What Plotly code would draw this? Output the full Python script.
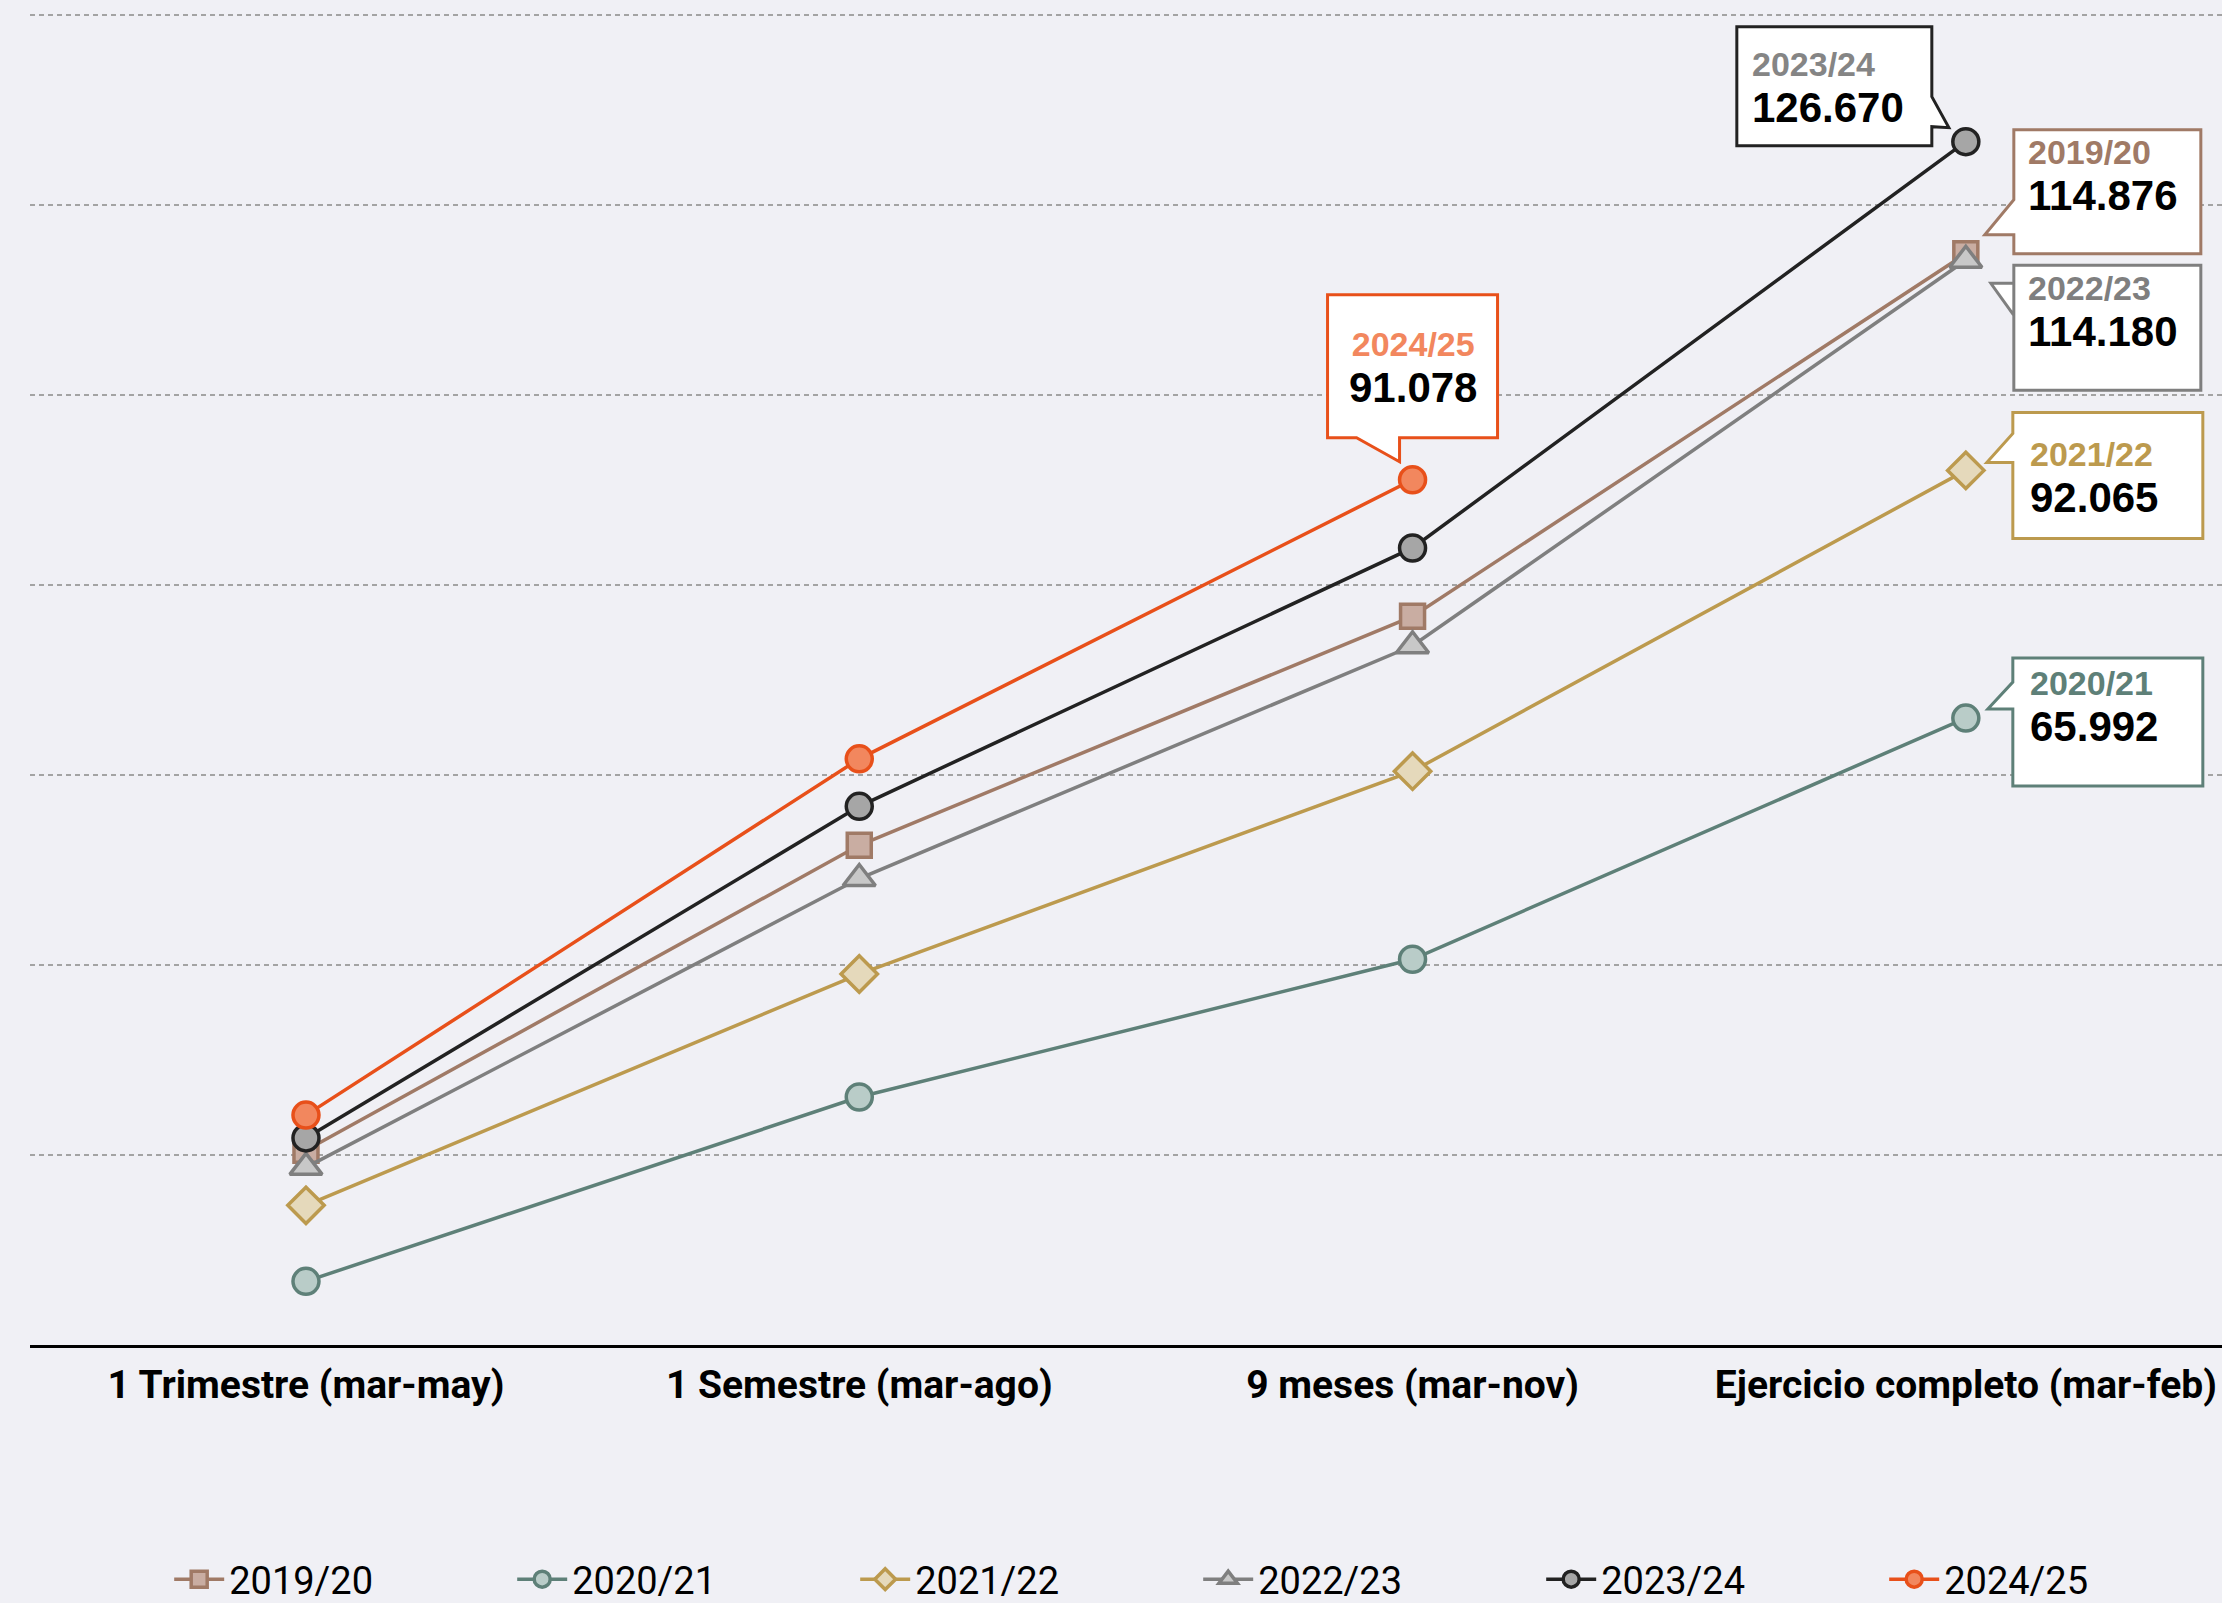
import plotly.graph_objects as go

# ---------------- data ----------------
categories = ["1 Trimestre (mar-may)", "1 Semestre (mar-ago)",
              "9 meses (mar-nov)", "Ejercicio completo (mar-feb)"]
series_names = ["2019/20", "2020/21", "2021/22", "2022/23", "2023/24", "2024/25"]
v_2019_20 = [20500, 52600, 76700, 114876]
v_2020_21 = [6700, 26100, 40600, 65992]
v_2021_22 = [14700, 39050, 60400, 92065]
v_2022_23 = [18700, 49100, 73600, 114180]
v_2023_24 = [21800, 56700, 83900, 126670]
v_2024_25 = [24200, 61700, 91078, None]
series_values = [v_2019_20, v_2020_21, v_2021_22, v_2022_23, v_2023_24, v_2024_25]

# ---------------- styles ----------------
line_colors = ["#A07A66", "#5E8078", "#BC9A4E", "#7F7F7F", "#222222", "#E8501A"]
fill_colors = ["#C9ADA2", "#B9CCC8", "#E5D9BB", "#C8C8C8", "#A6A6A6", "#F2875E"]
label_colors = ["#A07A66", "#5E8078", "#BC9A4E", "#7F7F7F", "#858585", "#F2875E"]
symbols = ["square", "circle", "diamond", "triangle-up", "circle", "circle"]
msizes = [24, 26, 28, 28, 26, 26]

# callout geometry, screen pixels relative to the labelled point (x right, y down)
# box: (left, top, right, bottom); tail: three points (base1, tip, base2) on box edge
callout_box = [(48, -124, 235, 0), (47, -60, 237, 68), (47, -58, 237, 68),
               (48, 5, 235, 130), (-229, -115, -34, 4), (-85, -185, 85, -42)]
callout_tail_side = ["left", "left", "left", "left", "right", "bottom"]
callout_tail = [[(48, -54), (19, -19), (48, -19)],
                [(47, -36), (22, -9), (47, -9)],
                [(47, -37), (21, -8), (47, -8)],
                [(48, 55), (25, 23), (48, 23)],
                [(-34, -45), (-17, -14), (-34, -15)],
                [(-13, -42), (-13, -18), (-56, -42)]]
callout_text_dx = [62, 64, 64, 62, -214, 0]
callout_text_dy = [-121, -54, -35, 9, -97, -155]
callout_anchor = ["left", "left", "left", "left", "left", "center"]

BG = "#F0F0F5"
W, H = 2222, 1603
ML, MR, MT, MB = 30, 0, 5, 258
px_per_unit = 190 / 20000.0
plot_h = H - MT - MB
y_top = plot_h / px_per_unit

fig = go.Figure()
for i, name in enumerate(series_names):
    fig.add_trace(go.Scatter(
        x=categories, y=series_values[i], name=name, mode="lines+markers",
        line=dict(color=line_colors[i], width=3.5),
        marker=dict(symbol=symbols[i], size=msizes[i], color=fill_colors[i],
                    line=dict(color=line_colors[i], width=3.5)),
        cliponaxis=False,
    ))

def fmt(v):
    return f"{v:,.0f}".replace(",", ".")

def bubble_path(box, side, tail):
    L, T, R, B = box
    if side == "left":
        pts = [(L, T), (R, T), (R, B), (L, B), tail[2], tail[1], tail[0]]
    elif side == "right":
        pts = [(L, T), (R, T), tail[0], tail[1], tail[2], (R, B), (L, B)]
    else:  # bottom
        pts = [(L, T), (R, T), (R, B), tail[0], tail[1], tail[2], (L, B)]
    # pixel-mode shape paths use y pointing up
    return "M " + " L ".join(f"{x},{-y}" for x, y in pts) + " Z"

for i, name in enumerate(series_names):
    vals = series_values[i]
    idx = max(k for k, v in enumerate(vals) if v is not None)
    fig.add_shape(
        type="path", xref="x", yref="y", xsizemode="pixel", ysizemode="pixel",
        xanchor=idx, yanchor=vals[idx],
        path=bubble_path(callout_box[i], callout_tail_side[i], callout_tail[i]),
        fillcolor="#FFFFFF", line=dict(color=line_colors[i], width=3), layer="above",
    )
    txt = (f"<b><span style='color:{label_colors[i]};font-size:34px'>{name}</span><br>"
           f"<span style='color:#000000;font-size:42px'>{fmt(vals[idx])}</span></b>")
    fig.add_annotation(
        x=categories[idx], y=vals[idx], xref="x", yref="y",
        text=txt, showarrow=False, xanchor=callout_anchor[i], yanchor="top",
        align=callout_anchor[i], xshift=callout_text_dx[i], yshift=-callout_text_dy[i],
        borderpad=0, borderwidth=0,
        font=dict(family="Liberation Sans", size=35, color="#000000"),
    )

fig.update_layout(
    width=W, height=H,
    margin=dict(l=ML, r=MR, t=MT, b=MB, autoexpand=False),
    paper_bgcolor=BG, plot_bgcolor=BG,
    showlegend=True,
    legend=dict(orientation="h", x=0.0635, xanchor="left", y=-0.175, yanchor="middle",
                font=dict(family="Roboto", size=38, color="#000000"),
                entrywidth=278, entrywidthmode="pixels", bgcolor="rgba(0,0,0,0)",
                itemsizing="trace", itemwidth=50, traceorder="normal"),
    xaxis=dict(type="category", range=[-0.4988, 3.463], showgrid=False,
               showline=True, linecolor="#000000", linewidth=2.5, ticks="",
               tickfont=dict(family="Roboto", size=39, color="#000000", weight="bold"),
               ticklabelstandoff=3, automargin=False, zeroline=False),
    yaxis=dict(range=[0, y_top], dtick=20000, showticklabels=False,
               showgrid=True, gridcolor="#A3A3A3", gridwidth=1.5, griddash="5px,4px",
               zeroline=False, showline=False, automargin=False, fixedrange=True),
    hovermode=False,
)

fig.write_html("out.html", config={"displayModeBar": False},
               post_script="document.body.style.margin='0';document.body.style.overflow='hidden';")
